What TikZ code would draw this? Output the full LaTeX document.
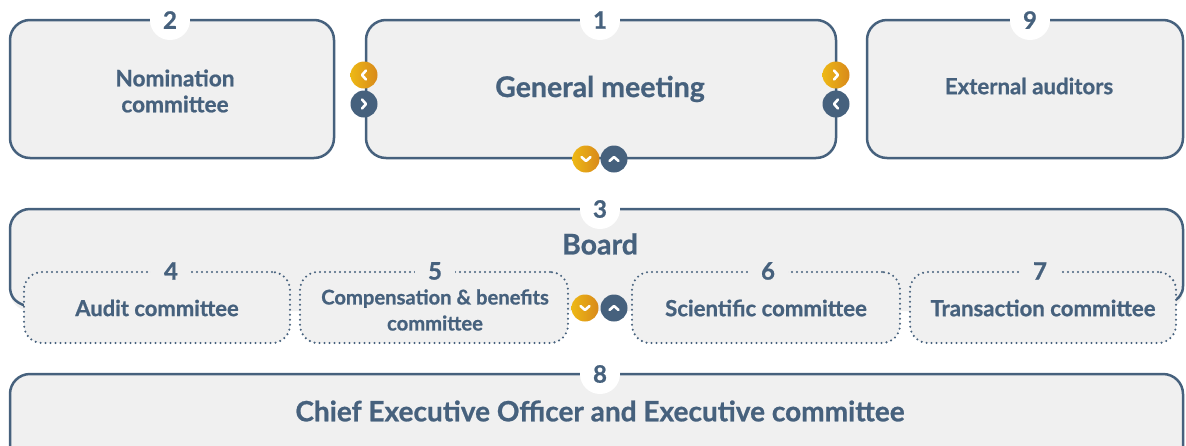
\documentclass[tikz,border=0pt]{standalone}
\usepackage{fontspec}
\setmainfont{Lato}[BoldFeatures={FakeBold=0.8}]
\definecolor{dblue}{HTML}{46617D}
\definecolor{lgray}{HTML}{F0F0F0}
\definecolor{oranA}{HTML}{EDB815}
\definecolor{oranB}{HTML}{D8891B}
\tikzset{
  box/.style={draw=dblue, line width=2.5pt, fill=lgray, rounded corners=20pt, inner sep=0pt},
  subbox/.style={draw=dblue, line width=2.3pt, dash pattern=on 0pt off 5pt, line cap=round, fill=lgray, rounded corners=18pt, inner sep=0pt},
  numw/.style={circle, fill=white, minimum size=40pt, inner sep=0pt, text=dblue, font=\bfseries\fontsize{24}{24}\selectfont},
  numg/.style={rectangle, fill=lgray, minimum width=40pt, minimum height=20pt, inner sep=0pt, text=dblue, font=\bfseries\fontsize{24}{24}\selectfont},
  ttl/.style={text=dblue, align=center, font=\bfseries\fontsize{#1}{26}\selectfont},
  obtn/.style={circle, minimum size=27pt, inner sep=0pt, left color=oranA, right color=oranB},
  bbtn/.style={circle, minimum size=27pt, inner sep=0pt, fill=dblue},
  chevline/.style={white, line width=2.6pt, line cap=round, line join=round},
}
\newcommand{\chevron}[2]{\draw[chevline, shift={(#1.center)}, rotate=#2] (-2pt,-4.5pt) -- (2pt,0pt) -- (-2pt,4.5pt);}
\begin{document}
\begin{tikzpicture}[x=1pt, y=-1pt]
\useasboundingbox (0,0) rectangle (1186,445);
\clip (0,0) rectangle (1186,445);
% top row
\node[box, minimum width=324pt, minimum height=138pt] (b2) at (172,89) {};
\node[box, minimum width=470pt, minimum height=138pt] (b1) at (601,89) {};
\node[box, minimum width=316pt, minimum height=138pt] (b9) at (1025,89) {};
\node[numw] (n2) at (170,20) {2};
\node[numw] (n1) at (600,20) {1};
\node[numw] (n9) at (1030,20) {9};
\node[ttl=22.6] (t2) at (175,91) {Nomination\\committee};
\node[ttl=28.5] (t1) at (600,89) {General meeting};
\node[ttl=22.2] (t9) at (1029,86) {External auditors};
% buttons top
\node[obtn] (bl1) at (364,75) {};
\node[bbtn] (bl2) at (364,104) {};
\node[obtn] (br1) at (836,75) {};
\node[bbtn] (br2) at (836,104) {};
\node[obtn] (bd1) at (586,159) {};
\node[bbtn] (bd2) at (614,159) {};
\chevron{bl1}{180}
\chevron{bl2}{0}
\chevron{br1}{0}
\chevron{br2}{180}
\chevron{bd1}{-90}
\chevron{bd2}{90}
% board
\fill[lgray, rounded corners=20pt] (10,209) rectangle (1183,311);
\draw[dblue, line width=2.5pt] (26,306) .. controls (14,302) and (10,296) .. (10,286) -- (10,229) arc[start angle=180, end angle=90, radius=20pt] -- (1163,209) arc[start angle=90, end angle=0, radius=20pt] -- (1183,286) .. controls (1183,294) and (1179,299) .. (1170,303);
\node[numw] (n3) at (600,209) {3};
\node[ttl=28.5] (t3) at (600,244) {Board};
% sub boxes
\node[subbox, minimum width=266pt, minimum height=71pt] (b4) at (157,307.5) {};
\node[subbox, minimum width=268pt, minimum height=71pt] (b5) at (434,307.5) {};
\node[subbox, minimum width=268pt, minimum height=71pt] (b6) at (766,307.5) {};
\node[subbox, minimum width=266pt, minimum height=71pt] (b7) at (1043,307.5) {};
\node[numg] (n4) at (171,271) {4};
\node[numg] (n5) at (435,271) {5};
\node[numg] (n6) at (768,271) {6};
\node[numg] (n7) at (1040,271) {7};
\node[ttl=22] (t4) at (157,308) {Audit committee};
\node[ttl=20.2] (t5) at (435,310) {Compensation \& benefits\\committee};
\node[ttl=22.2] (t6) at (766,308) {Scientific committee};
\node[ttl=22.2] (t7) at (1043,308) {Transaction committee};
\node[obtn] (bm1) at (585,308) {};
\node[bbtn] (bm2) at (614,308) {};
\chevron{bm1}{-90}
\chevron{bm2}{90}
% CEO
\node[box, minimum width=1173pt, minimum height=120pt] (b8) at (596.5,434) {};
\node[numw] (n8) at (600,374) {8};
\node[ttl=28] (t8) at (600,411) {Chief Executive Officer and Executive committee};
\end{tikzpicture}
\end{document}
